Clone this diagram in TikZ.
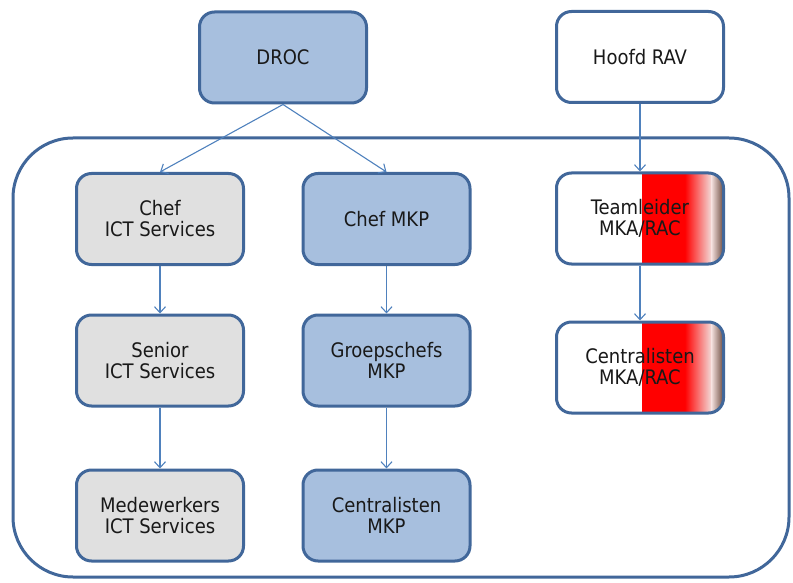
\documentclass[tikz,border=0pt]{standalone}
\usepackage{fontspec}
\setmainfont{DejaVu Sans Condensed}
\usetikzlibrary{arrows.meta,calc}
\definecolor{bfill}{HTML}{A7BFDE}
\definecolor{bdraw}{HTML}{41679A}
\definecolor{gfill}{HTML}{E0E0E0}
\definecolor{arrc}{HTML}{4F81BD}
\definecolor{fadec}{HTML}{F2DEDC}
\definecolor{brownc}{HTML}{6B4A3F}
\begin{document}
\begin{tikzpicture}[x=1pt,y=-1pt,
  box/.style={draw=bdraw, line width=3pt, rounded corners=15pt, minimum width=167pt, minimum height=91pt,
    align=center, font=\fontsize{20}{21}\selectfont, text=black!90, inner sep=0pt},
  bluebox/.style={box, fill=bfill},
  greybox/.style={box, fill=gfill},
  whitebox/.style={box, fill=white},
  redgrad/.style={whitebox, path picture={
    \path (path picture bounding box.south west) coordinate (pa) (path picture bounding box.north east) coordinate (pb);
    \fill[red, sharp corners] let \p1=(pa),\p2=(pb) in ({\x1+0.51*(\x2-\x1)},\y1) rectangle ({\x1+0.77*(\x2-\x1)},\y2);
    \shade[left color=red,right color=fadec, sharp corners] let \p1=(pa),\p2=(pb) in ({\x1+0.77*(\x2-\x1)-0.3pt},\y1) rectangle ({\x1+0.93*(\x2-\x1)},\y2);
    \shade[left color=fadec,right color=brownc, sharp corners] let \p1=(pa),\p2=(pb) in ({\x1+0.93*(\x2-\x1)-0.3pt},\y1) rectangle (\x2,\y2);
  }},
  conn/.style={draw=arrc, line width=1.1pt, -{Straight Barb[length=6pt,width=11pt]}},
  container/.style={draw=bdraw, line width=3pt, rounded corners=60pt, minimum width=776pt, minimum height=439pt, inner sep=0pt}
]
\useasboundingbox (0,0) rectangle (793,583);
\node[container] (grp) at (401,357.5) {};

\node[bluebox] (droc) at (283,57.5) {DROC};
\node[whitebox] (hoofd) at (640,57) {Hoofd RAV};

\node[greybox] (chefict) at (160,219) {Chef\\ICT Services};
\node[bluebox] (chefmkp) at (386.5,219) {Chef MKP};
\node[redgrad] (team) at (640,218.5) {Teamleider\\MKA/RAC};

\node[greybox] (senior) at (160,360.5) {Senior\\ICT Services};
\node[bluebox] (groep) at (386.5,360.5) {Groepschefs\\MKP};
\node[redgrad] (centmka) at (640,367.5) {Centralisten\\MKA/RAC};

\node[greybox] (mede) at (160,515.5) {Medewerkers\\ICT Services};
\node[bluebox] (centmkp) at (386.5,515.5) {Centralisten\\MKP};

\draw[conn] (droc.south) -- (chefict.north);
\draw[conn] (droc.south) -- (chefmkp.north);
\draw[conn] (hoofd.south) -- (team.north);
\draw[conn] (chefict.south) -- (senior.north);
\draw[conn] (senior.south) -- (mede.north);
\draw[conn] (chefmkp.south) -- (groep.north);
\draw[conn] (groep.south) -- (centmkp.north);
\draw[conn] (team.south) -- (centmka.north);
\end{tikzpicture}
\end{document}
